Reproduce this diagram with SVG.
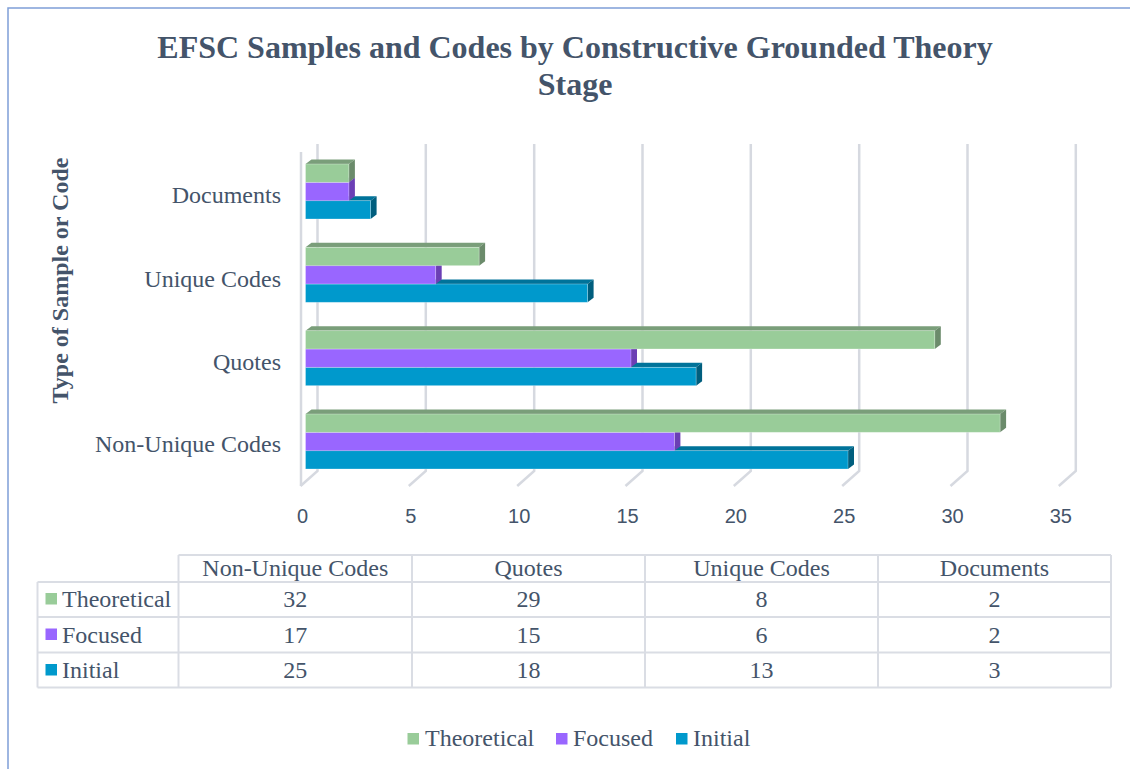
<svg xmlns="http://www.w3.org/2000/svg" width="1130" height="769" viewBox="0 0 1130 769">
<style>
.t{font-family:"Liberation Serif","Times New Roman",serif;fill:#44546A}
.title{font-size:32px;font-weight:bold;text-anchor:middle}
.cat{font-size:24px;text-anchor:end}
.tick{font-family:"Liberation Sans",Arial,sans-serif;font-size:20px;fill:#44546A;text-anchor:middle}
.cell{font-size:24px;text-anchor:middle}
.key{font-size:24px}
.grid{fill:none;stroke:#D6D9E0;stroke-width:2.5}
.tbl{stroke:#DADDE4;stroke-width:2;fill:none}
.gF{fill:#99CC99}.gT{fill:#7A9E7A}.gS{fill:#6B8B6B}
.pF{fill:#9966FF}.pT{fill:#7A4FD0}.pS{fill:#6B3FB5}
.bF{fill:#0099CC}.bT{fill:#00739A}.bS{fill:#005E7E}
.front{stroke:#ffffff;stroke-opacity:0.35;stroke-width:0.8}
</style>
<rect x="8" y="8" width="1130" height="770" fill="#FFFFFF" stroke="#7F9FD8" stroke-width="1.5"/>
<g id="title">
<text class="t title" x="575" y="58">EFSC Samples and Codes by Constructive Grounded Theory</text>
<text class="t title" x="575" y="95">Stage</text>
</g>
<g id="axis-title">
<text class="t" font-size="24" font-weight="bold" text-anchor="middle" transform="translate(68,280.5) rotate(-90)">Type of Sample or Code</text>
</g>
<g id="gridlines">
<line x1="301" y1="152" x2="301" y2="486" class="grid"/>
<polyline class="grid" points="317.5,144 317.5,471 300.5,486"/>
<polyline class="grid" points="425.8,144 425.8,471 408.8,486"/>
<polyline class="grid" points="534.2,144 534.2,471 517.2,486"/>
<polyline class="grid" points="642.5,144 642.5,471 625.5,486"/>
<polyline class="grid" points="750.8,144 750.8,471 733.8,486"/>
<polyline class="grid" points="859.2,144 859.2,471 842.2,486"/>
<polyline class="grid" points="967.5,144 967.5,471 950.5,486"/>
<polyline class="grid" points="1075.8,144 1075.8,471 1058.8,486"/>
</g>
<g id="tick-labels">
<text class="tick" x="302.5" y="523">0</text>
<text class="tick" x="410.8" y="523">5</text>
<text class="tick" x="519.2" y="523">10</text>
<text class="tick" x="627.5" y="523">15</text>
<text class="tick" x="735.8" y="523">20</text>
<text class="tick" x="844.2" y="523">25</text>
<text class="tick" x="952.5" y="523">30</text>
<text class="tick" x="1060.8" y="523">35</text>
</g>
<g id="category-labels">
<text class="t cat" x="281" y="203">Documents</text>
<text class="t cat" x="281" y="286.5">Unique Codes</text>
<text class="t cat" x="281" y="370">Quotes</text>
<text class="t cat" x="281" y="451.5">Non-Unique Codes</text>
</g>
<g id="bars-documents">
<polygon class="bT" points="305.5,200.67 311.5,196.17 376.6,196.17 370.6,200.67"/>
<polygon class="bS" points="370.6,200.67 376.6,196.17 376.6,214.5 370.6,219"/>
<rect class="bF front" x="305.5" y="200.67" width="65.1" height="18.33"/>
<polygon class="pT" points="305.5,182.33 311.5,177.83 354.9,177.83 348.9,182.33"/>
<polygon class="pS" points="348.9,182.33 354.9,177.83 354.9,196.17 348.9,200.67"/>
<rect class="pF front" x="305.5" y="182.33" width="43.4" height="18.33"/>
<polygon class="gT" points="305.5,164 311.5,159.5 354.9,159.5 348.9,164"/>
<polygon class="gS" points="348.9,164 354.9,159.5 354.9,177.83 348.9,182.33"/>
<rect class="gF front" x="305.5" y="164" width="43.4" height="18.33"/>
</g>
<g id="bars-unique-codes">
<polygon class="bT" points="305.5,284 311.5,279.5 593.6,279.5 587.6,284"/>
<polygon class="bS" points="587.6,284 593.6,279.5 593.6,297.83 587.6,302.33"/>
<rect class="bF front" x="305.5" y="284" width="282.1" height="18.33"/>
<polygon class="pT" points="305.5,265.67 311.5,261.17 441.7,261.17 435.7,265.67"/>
<polygon class="pS" points="435.7,265.67 441.7,261.17 441.7,279.5 435.7,284"/>
<rect class="pF front" x="305.5" y="265.67" width="130.2" height="18.33"/>
<polygon class="gT" points="305.5,247.33 311.5,242.83 485.1,242.83 479.1,247.33"/>
<polygon class="gS" points="479.1,247.33 485.1,242.83 485.1,261.17 479.1,265.67"/>
<rect class="gF front" x="305.5" y="247.33" width="173.6" height="18.33"/>
</g>
<g id="bars-quotes">
<polygon class="bT" points="305.5,367.33 311.5,362.83 702.1,362.83 696.1,367.33"/>
<polygon class="bS" points="696.1,367.33 702.1,362.83 702.1,381.17 696.1,385.67"/>
<rect class="bF front" x="305.5" y="367.33" width="390.6" height="18.33"/>
<polygon class="pT" points="305.5,349 311.5,344.5 637,344.5 631,349"/>
<polygon class="pS" points="631,349 637,344.5 637,362.83 631,367.33"/>
<rect class="pF front" x="305.5" y="349" width="325.5" height="18.33"/>
<polygon class="gT" points="305.5,330.67 311.5,326.17 940.8,326.17 934.8,330.67"/>
<polygon class="gS" points="934.8,330.67 940.8,326.17 940.8,344.5 934.8,349"/>
<rect class="gF front" x="305.5" y="330.67" width="629.3" height="18.33"/>
</g>
<g id="bars-non-unique-codes">
<polygon class="bT" points="305.5,450.67 311.5,446.17 854,446.17 848,450.67"/>
<polygon class="bS" points="848,450.67 854,446.17 854,464.5 848,469"/>
<rect class="bF front" x="305.5" y="450.67" width="542.5" height="18.33"/>
<polygon class="pT" points="305.5,432.33 311.5,427.83 680.4,427.83 674.4,432.33"/>
<polygon class="pS" points="674.4,432.33 680.4,427.83 680.4,446.17 674.4,450.67"/>
<rect class="pF front" x="305.5" y="432.33" width="368.9" height="18.33"/>
<polygon class="gT" points="305.5,414 311.5,409.5 1006.1,409.5 1000.1,414"/>
<polygon class="gS" points="1000.1,414 1006.1,409.5 1006.1,427.83 1000.1,432.33"/>
<rect class="gF front" x="305.5" y="414" width="694.6" height="18.33"/>
</g>
<g id="data-table">
<g class="tbl">
<line x1="178.5" y1="555" x2="1111" y2="555"/>
<line x1="37.5" y1="582" x2="1111" y2="582"/>
<line x1="37.5" y1="617" x2="1111" y2="617"/>
<line x1="37.5" y1="652.5" x2="1111" y2="652.5"/>
<line x1="37.5" y1="687.5" x2="1111" y2="687.5"/>
<line x1="37.5" y1="582" x2="37.5" y2="687.5"/>
<line x1="178.5" y1="555" x2="178.5" y2="687.5"/>
<line x1="412" y1="555" x2="412" y2="687.5"/>
<line x1="645" y1="555" x2="645" y2="687.5"/>
<line x1="878" y1="555" x2="878" y2="687.5"/>
<line x1="1111" y1="555" x2="1111" y2="687.5"/>
</g>
<text class="t cell" x="295.3" y="576">Non-Unique Codes</text>
<text class="t cell" x="528.5" y="576">Quotes</text>
<text class="t cell" x="761.5" y="576">Unique Codes</text>
<text class="t cell" x="994.5" y="576">Documents</text>
<rect class="gF" x="45.5" y="593" width="11.5" height="11.5"/>
<text class="t key" x="62" y="607">Theoretical</text>
<rect class="pF" x="45.5" y="628.5" width="11.5" height="11.5"/>
<text class="t key" x="62" y="642.5">Focused</text>
<rect class="bF" x="45.5" y="664" width="11.5" height="11.5"/>
<text class="t key" x="62" y="678">Initial</text>
<text class="t cell" x="295.3" y="607">32</text>
<text class="t cell" x="528.5" y="607">29</text>
<text class="t cell" x="761.5" y="607">8</text>
<text class="t cell" x="994.5" y="607">2</text>
<text class="t cell" x="295.3" y="642.5">17</text>
<text class="t cell" x="528.5" y="642.5">15</text>
<text class="t cell" x="761.5" y="642.5">6</text>
<text class="t cell" x="994.5" y="642.5">2</text>
<text class="t cell" x="295.3" y="678">25</text>
<text class="t cell" x="528.5" y="678">18</text>
<text class="t cell" x="761.5" y="678">13</text>
<text class="t cell" x="994.5" y="678">3</text>
</g>
<g id="legend">
<rect class="gF" x="407.5" y="733" width="11.5" height="11.5"/>
<text class="t key" x="425" y="745.5">Theoretical</text>
<rect class="pF" x="556" y="733" width="11.5" height="11.5"/>
<text class="t key" x="573" y="745.5">Focused</text>
<rect class="bF" x="676" y="733" width="11.5" height="11.5"/>
<text class="t key" x="693" y="745.5">Initial</text>
</g>
</svg>
